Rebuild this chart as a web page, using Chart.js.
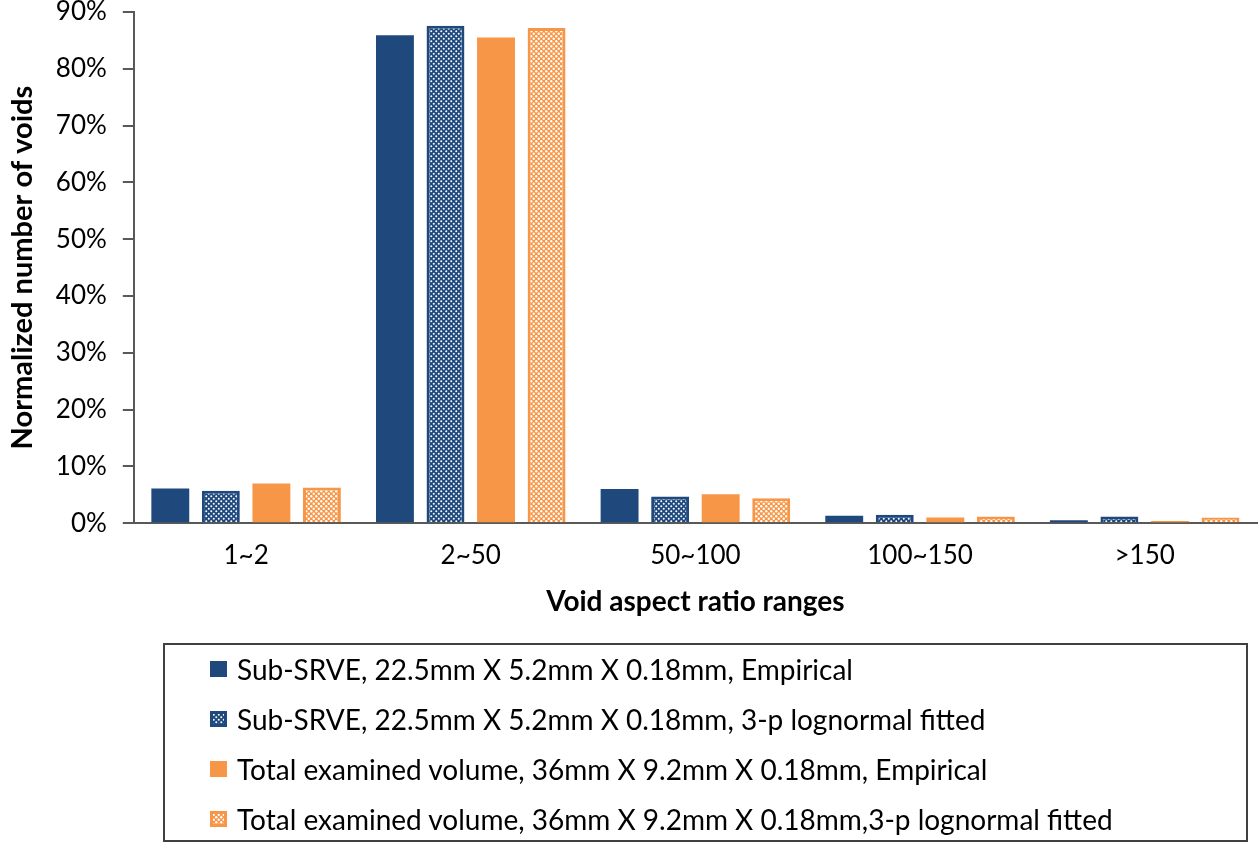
<!DOCTYPE html>
<html>
<head>
<meta charset="utf-8">
<script src="https://cdn.jsdelivr.net/npm/chart.js@4.4.1/dist/chart.umd.min.js"></script>
<style>
  body { margin: 0; background: #fff; }
  #wrap { position: relative; width: 1260px; height: 849px; }
  #legend {
    position: absolute; left: 163px; top: 643px; width: 1081px; height: 195px;
    border: 2px solid #404040; font-family: Lato, "Noto Sans", sans-serif; font-size: 28px; color: #000;
  }
  .row { position: absolute; left: 45px; display: flex; align-items: center; height: 34px; }
  .row canvas { width: 17px; height: 16px; margin-right: 10px; }
</style>
</head>
<body>
<div id="wrap">
  <canvas id="chart" width="1260" height="849"></canvas>
  <div id="legend"></div>
</div>
<script>
const categories = ["1~2", "2~50", "50~100", "100~150", ">150"];
const subEmpirical = [6.1, 85.9, 6.0, 1.3, 0.5];
const subFitted = [5.7, 87.6, 4.7, 1.5, 1.2];
const totalEmpirical = [7.0, 85.5, 5.1, 1.0, 0.4];
const totalFitted = [6.3, 87.2, 4.4, 1.2, 1.0];
const seriesNames = [
    "Sub-SRVE, 22.5mm X 5.2mm X 0.18mm, Empirical",
    "Sub-SRVE, 22.5mm X 5.2mm X 0.18mm, 3-p lognormal fitted",
    "Total examined volume, 36mm X 9.2mm X 0.18mm, Empirical",
    "Total examined volume, 36mm X 9.2mm X 0.18mm,3-p lognormal fitted"
];
const yTicks = [0, 10, 20, 30, 40, 50, 60, 70, 80, 90];

const BLUE = "#1F497D";
const ORANGE = "#F79646";

// small dotted tile used as fill for the fitted series
function makeDots(color, r) {
    const tile = document.createElement("canvas");
    tile.width = 5;
    tile.height = 5;
    const c = tile.getContext("2d");
    c.fillStyle = color;
    c.fillRect(0, 0, 5, 5);
    c.fillStyle = "#ffffff";
    [[1.25, 1.25], [3.75, 3.75]].forEach(function (p) {
        c.beginPath();
        c.arc(p[0], p[1], r, 0, Math.PI * 2);
        c.fill();
    });
    return c.createPattern(tile, "repeat");
}

const ctx = document.getElementById("chart").getContext("2d");
const bluePattern = makeDots(BLUE, 1.0);
const orangePattern = makeDots(ORANGE, 1.2);

const fills = [BLUE, bluePattern, ORANGE, orangePattern];
const borders = [BLUE, BLUE, ORANGE, ORANGE];
const values = [subEmpirical, subFitted, totalEmpirical, totalFitted];

new Chart(ctx, {
    type: "bar",
    data: {
        labels: categories,
        datasets: values.map(function (v, i) {
            return {
                label: seriesNames[i],
                data: v,
                backgroundColor: fills[i],
                borderColor: borders[i],
                borderWidth: i % 2 ? 3 : 0,
                categoryPercentage: 0.9,
                barPercentage: 0.75
            };
        })
    },
    options: {
        responsive: false,
        animation: false,
        layout: { padding: { left: 5, right: 3, top: 12, bottom: 230 } },
        plugins: { legend: { display: false }, tooltip: { enabled: false } },
        scales: {
            x: {
                grid: { display: false, drawTicks: false },
                border: { display: true, color: "#595959", width: 2 },
                ticks: { color: "#000", padding: 17, font: { family: "Lato", size: 26 } },
                title: {
                    display: true, text: "Void aspect ratio ranges", color: "#000",
                    font: { family: "Lato", size: 28, weight: "bold" }, padding: { top: -3, bottom: 0 }
                }
            },
            y: {
                min: 0, max: 90,
                afterBuildTicks: function (s) { s.ticks = yTicks.map(function (v) { return { value: v }; }); },
                afterFit: function (s) { s.paddingTop = 0; },
                grid: { drawOnChartArea: false, drawTicks: true, tickLength: 11, color: "#595959", lineWidth: 2 },
                border: { display: true, color: "#595959", width: 2 },
                ticks: { color: "#000", padding: 16, font: { family: "Lato", size: 26 },
                         callback: function (v) { return v + "%"; } },
                title: {
                    display: true, text: "Normalized number of voids", color: "#000",
                    font: { family: "Lato", size: 29, weight: "bold" }, padding: { top: 0, bottom: 0 }
                }
            }
        }
    }
});

// legend below the plot
const legend = document.getElementById("legend");
seriesNames.forEach(function (name, i) {
    const row = document.createElement("div");
    row.className = "row";
    row.style.top = (7 + i * 50) + "px";
    const sw = document.createElement("canvas");
    sw.width = 17;
    sw.height = 16;
    const sc = sw.getContext("2d");
    sc.fillStyle = i % 2 ? makeDots(borders[i], i === 1 ? 1.0 : 1.2) : fills[i];
    sc.fillRect(0, 0, 17, 16);
    if (i % 2) {
        sc.strokeStyle = borders[i];
        sc.lineWidth = 3;
        sc.strokeRect(1.5, 1.5, 14, 13);
    }
    const label = document.createElement("span");
    label.textContent = name;
    row.appendChild(sw);
    row.appendChild(label);
    legend.appendChild(row);
});
</script>
</body>
</html>
